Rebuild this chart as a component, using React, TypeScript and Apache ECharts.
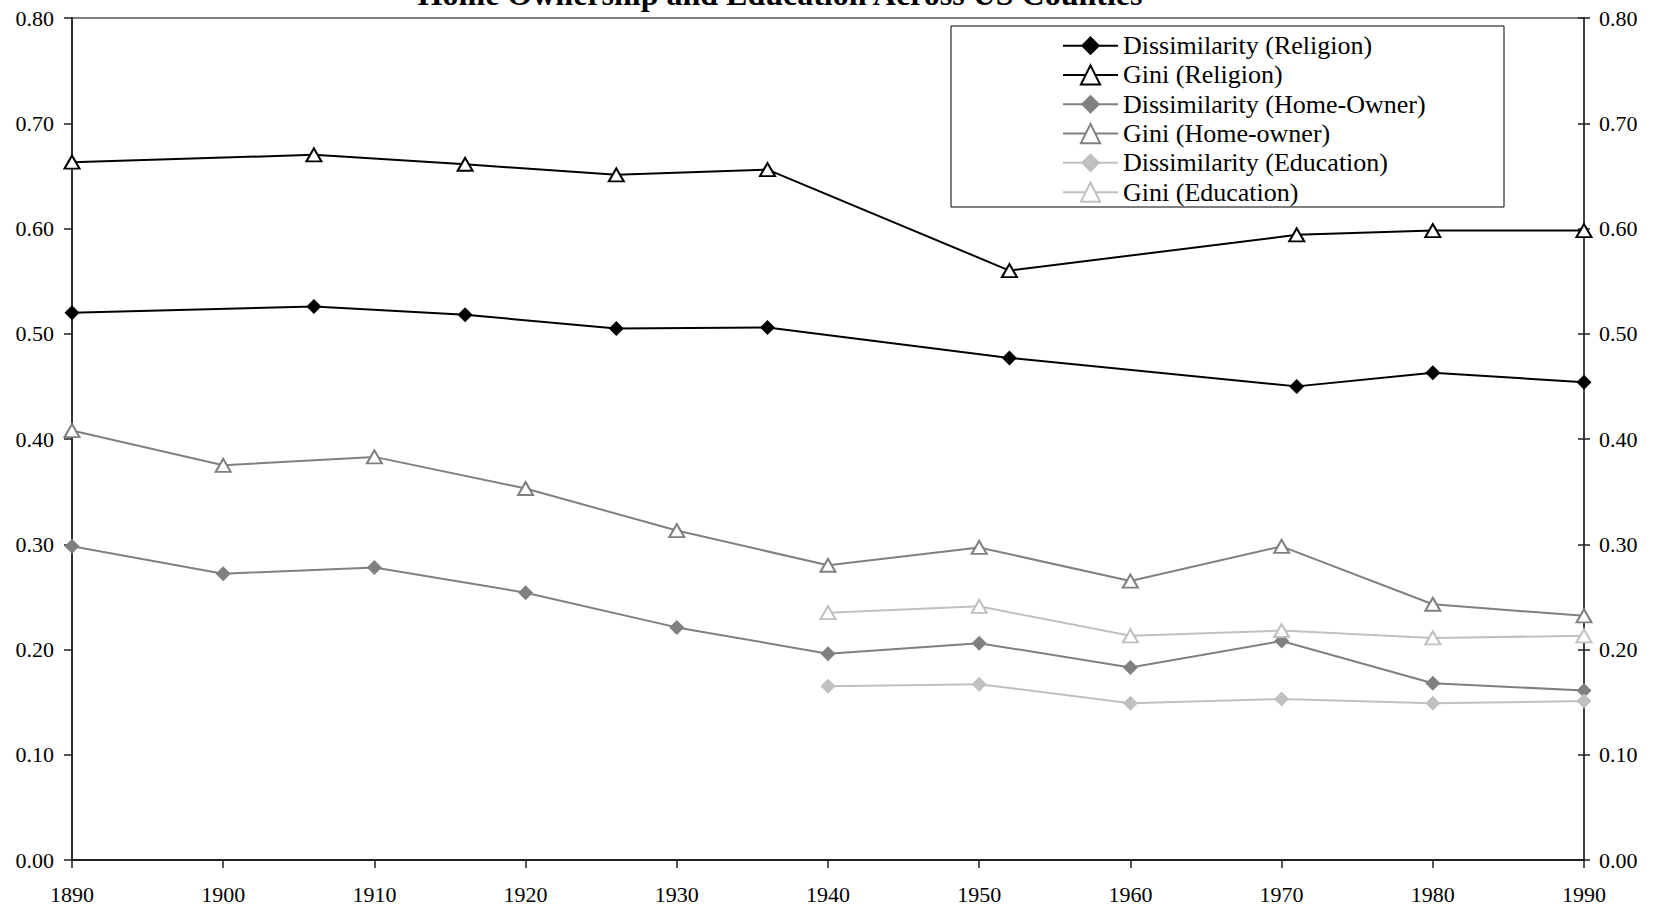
import React, { useEffect, useRef } from "react";
import * as echarts from "echarts";

const titleText = "Home Ownership and Education Across US Counties";

const religionYears = [1890, 1906, 1916, 1926, 1936, 1952, 1971, 1980, 1990];
const dissimReligion = [0.52, 0.526, 0.518, 0.505, 0.506, 0.477, 0.45, 0.463, 0.454];
const giniReligion = [0.663, 0.67, 0.661, 0.651, 0.656, 0.56, 0.594, 0.598, 0.598];

const homeYears = [1890, 1900, 1910, 1920, 1930, 1940, 1950, 1960, 1970, 1980, 1990];
const dissimHome = [0.298, 0.272, 0.278, 0.254, 0.221, 0.196, 0.206, 0.183, 0.208, 0.168, 0.161];
const giniHome = [0.408, 0.375, 0.383, 0.353, 0.313, 0.28, 0.297, 0.265, 0.298, 0.243, 0.232];

const eduYears = [1940, 1950, 1960, 1970, 1980, 1990];
const dissimEdu = [0.165, 0.167, 0.149, 0.153, 0.149, 0.151];
const giniEdu = [0.235, 0.241, 0.213, 0.218, 0.211, 0.213];

const seriesNames = [
  "Dissimilarity (Religion)",
  "Gini (Religion)",
  "Dissimilarity (Home-Owner)",
  "Gini (Home-owner)",
  "Dissimilarity (Education)",
  "Gini (Education)",
];

const FONT = "'Liberation Serif', 'Times New Roman', serif";

function pairs(xs: number[], ys: number[]) {
  return xs.map((x, i) => [x, ys[i]]);
}

function diamondSeries(name: string, color: string, data: number[][]) {
  return {
    name,
    type: "line",
    data,
    symbol: "diamond",
    symbolSize: 15,
    itemStyle: { color, borderColor: color, borderWidth: 0 },
    lineStyle: { color, width: 2 },
    z: 3,
  };
}

function triangleSeries(name: string, color: string, data: number[][]) {
  return {
    name,
    type: "line",
    data,
    symbol: "triangle",
    symbolSize: [15, 13],
    showAllSymbol: true,
    itemStyle: { color: "#ffffff", borderColor: color, borderWidth: 2 },
    lineStyle: { color, width: 2 },
    z: 3,
  };
}

export default function App() {
  const ref = useRef<HTMLDivElement>(null);
  useEffect(() => {
    if (!ref.current) return;
    const chart = echarts.init(ref.current, undefined, { renderer: "svg" });
    const black = "#000000";
    const mid = "#808080";
    const light = "#c0c0c0";
    chart.setOption({
      animation: false,
      backgroundColor: "#ffffff",
      textStyle: { fontFamily: FONT },
      grid: {
        left: 72,
        right: 76,
        top: 18,
        bottom: 54,
        show: true,
        borderColor: "#808080",
        borderWidth: 2,
        backgroundColor: "transparent",
      },
      graphic: [
        {
          type: "text",
          x: 780,
          y: -6,
          style: {
            text: titleText,
            fontFamily: FONT,
            fontWeight: "bold",
            fontSize: 32,
            fill: "#000",
            textAlign: "center",
            textVerticalAlign: "middle",
          },
        },
        {
          type: "rect",
          shape: { x: 951, y: 26, width: 553, height: 181 },
          style: { fill: "#ffffff", stroke: "#000000", lineWidth: 1 },
          z: 10,
        },
      ],
      legend: {
        orient: "vertical",
        left: 1062,
        top: 31,
        padding: 0,
        itemGap: 0,
        itemWidth: 55,
        itemHeight: 24,
        selectedMode: false,
        z: 20,
        data: seriesNames,
        textStyle: { fontFamily: FONT, fontSize: 26, color: "#000", lineHeight: 29.3 },
      },
      xAxis: {
        type: "value",
        min: 1890,
        max: 1990,
        interval: 10,
        splitLine: { show: false },
        axisLine: { show: true, onZero: false, lineStyle: { color: "#202020", width: 2 } },
        axisTick: { show: true, inside: false, length: 8, lineStyle: { color: "#202020", width: 1.5 } },
        axisLabel: { fontFamily: FONT, fontSize: 22, color: "#000", margin: 23, formatter: (v: number) => String(v) },
      },
      yAxis: [
        {
          type: "value",
          position: "left",
          min: 0,
          max: 0.8,
          interval: 0.1,
          splitLine: { show: false },
          axisLine: { show: true, lineStyle: { color: "#303030", width: 2 } },
          axisTick: { show: true, inside: false, length: 8, lineStyle: { color: "#202020", width: 1.5 } },
          axisLabel: { fontFamily: FONT, fontSize: 22, color: "#000", margin: 18, formatter: (v: number) => v.toFixed(2) },
        },
        {
          type: "value",
          position: "right",
          min: 0,
          max: 0.8,
          interval: 0.1,
          splitLine: { show: false },
          axisLine: { show: true, lineStyle: { color: "#404040", width: 2 } },
          axisTick: { show: true, inside: false, length: 6, lineStyle: { color: "#202020", width: 1.5 } },
          axisLabel: { fontFamily: FONT, fontSize: 22, color: "#000", margin: 15, formatter: (v: number) => v.toFixed(2) },
        },
        {
          type: "value",
          position: "right",
          min: 0,
          max: 0.8,
          interval: 0.1,
          splitLine: { show: false },
          axisLine: { show: false },
          axisTick: { show: true, inside: true, length: 6, lineStyle: { color: "#202020", width: 1.5 } },
          axisLabel: { show: false },
        },
      ],
      series: [
        diamondSeries(seriesNames[0], black, pairs(religionYears, dissimReligion)),
        triangleSeries(seriesNames[1], black, pairs(religionYears, giniReligion)),
        diamondSeries(seriesNames[2], mid, pairs(homeYears, dissimHome)),
        triangleSeries(seriesNames[3], mid, pairs(homeYears, giniHome)),
        diamondSeries(seriesNames[4], light, pairs(eduYears, dissimEdu)),
        triangleSeries(seriesNames[5], light, pairs(eduYears, giniEdu)),
      ],
    });
    return () => chart.dispose();
  }, []);
  return (
    <div
      ref={ref}
      style={{ position: "fixed", left: 0, top: 0, width: 1660, height: 914, background: "#fff" }}
    />
  );
}
